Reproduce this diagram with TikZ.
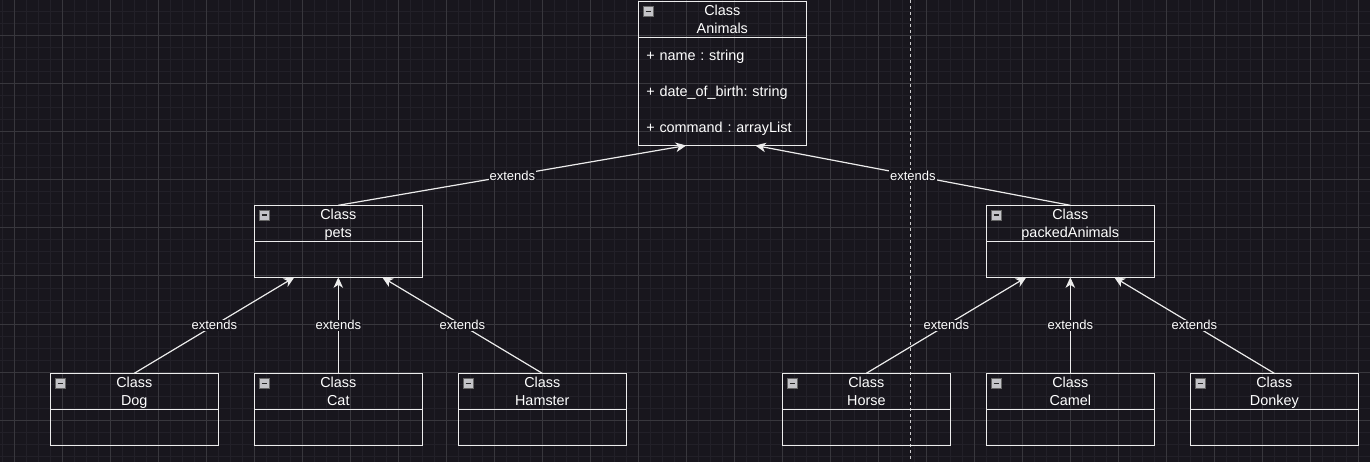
\documentclass[tikz,border=0pt]{standalone}
\usepackage{fontspec}
\setmainfont{Liberation Sans}
\frenchspacing
\usetikzlibrary{arrows.meta, positioning, calc}
\definecolor{canvas}{RGB}{24,22,29}
\definecolor{gridminor}{RGB}{34,32,40}
\definecolor{gridmajor}{RGB}{56,55,61}
\definecolor{umlline}{RGB}{236,236,236}
\definecolor{icongrey}{RGB}{196,196,200}
\tikzset{
  umlnode/.style = {draw=umlline, line width=1.1pt, inner sep=0pt, outer sep=0pt,
    minimum width=168pt, text=white, font=\fontsize{14.4}{18}\selectfont},% common class part
  cls_head/.style = {umlnode, minimum height=36pt, align=center,
    text height=28pt, text depth=0pt,
    path picture={
      \draw[draw=gray!80!black, fill=icongrey, line width=0.6pt]
        ([shift={(5pt,-5pt)}]path picture bounding box.north west) rectangle ++(10pt,-10pt);
      \draw[draw=black!85, line width=1.6pt]
        ([shift={(7.4pt,-10pt)}]path picture bounding box.north west) -- ++(5.2pt,0pt);
    }},% title bar, collapse icon
  cls_body/.style = {umlnode, minimum height=36pt},% empty part
  cls_attr/.style = {umlnode, minimum height=108pt, inner xsep=8pt, text width=152pt,
    align=left, text height=10pt, text depth=72pt,
    font=\fontsize{14.4}{36}\selectfont},% attribute list
  extends/.style = {draw=umlline, line width=1.2pt,
    -{Stealth[length=10.5pt, width=9.5pt, inset=3pt, fill=umlline]}},% generalisation
  ext_lbl/.style = {fill=canvas, text=white, inner sep=1pt,
    font=\fontsize{13}{15}\selectfont},% edge label
  grid_minor/.style = {draw=gridminor, line width=1pt},
  grid_major/.style = {draw=gridmajor, line width=1pt},
  pagebreak/.style = {draw=umlline!85!canvas, line width=1pt, dash pattern=on 3pt off 3pt}
}

\begin{document}
\begin{tikzpicture}[x=1pt, y=-1pt]
\fill[canvas] (0,0) rectangle (1370,462);
\useasboundingbox (0,0) rectangle (1370,462);
\foreach \x in {2,14,...,1370} \draw[grid_minor] (\x,0) -- (\x,462);
\foreach \y in {0,12,...,462} \draw[grid_minor] (0,\y) -- (1370,\y);
\foreach \x in {14,62,...,1370} \draw[grid_major] (\x,0) -- (\x,462);
\foreach \y in {36,84,...,462} \draw[grid_major] (0,\y) -- (1370,\y);
\draw[pagebreak] (910.5,0) -- (910.5,462);

% root
\node[cls_head] (animals) at (722.3,19.5) {Class\\Animals};
\node[cls_attr, below=0pt of animals] (animals_attr)
  {+ name : string\\+ date\_of\_birth: string\\+ command : arrayList};

% second level
\node[cls_head] (pets) at (338.3,223.3) {Class\\pets};
\node[cls_body, below=0pt of pets] (pets_body) {};
\node[cls_head] (packed) at (1070.3,223.3) {Class\\packedAnimals};
\node[cls_body, below=0pt of packed] (packed_body) {};

% leaves
\node[cls_head, below=96pt of pets_body] (cat) {Class\\Cat};
\node[cls_body, below=0pt of cat] (cat_body) {};
\node[cls_head, left=36pt of cat] (dog) {Class\\Dog};
\node[cls_body, below=0pt of dog] (dog_body) {};
\node[cls_head, right=36pt of cat] (hamster) {Class\\Hamster};
\node[cls_body, below=0pt of hamster] (hamster_body) {};
\node[cls_head, below=96pt of packed_body] (camel) {Class\\Camel};
\node[cls_body, below=0pt of camel] (camel_body) {};
\node[cls_head, left=36pt of camel] (horse) {Class\\Horse};
\node[cls_body, below=0pt of horse] (horse_body) {};
\node[cls_head, right=36pt of camel] (donkey) {Class\\Donkey};
\node[cls_body, below=0pt of donkey] (donkey_body) {};

\foreach \sub/\super/\dx in {pets/animals_attr/-36, packed/animals_attr/33,
    dog/pets_body/-44, cat/pets_body/0, hamster/pets_body/44,
    horse/packed_body/-44, camel/packed_body/0, donkey/packed_body/44}
  \draw[extends] (\sub.north) -- node[ext_lbl] {extends} ([xshift=\dx pt]\super.south);
\end{tikzpicture}
\end{document}
